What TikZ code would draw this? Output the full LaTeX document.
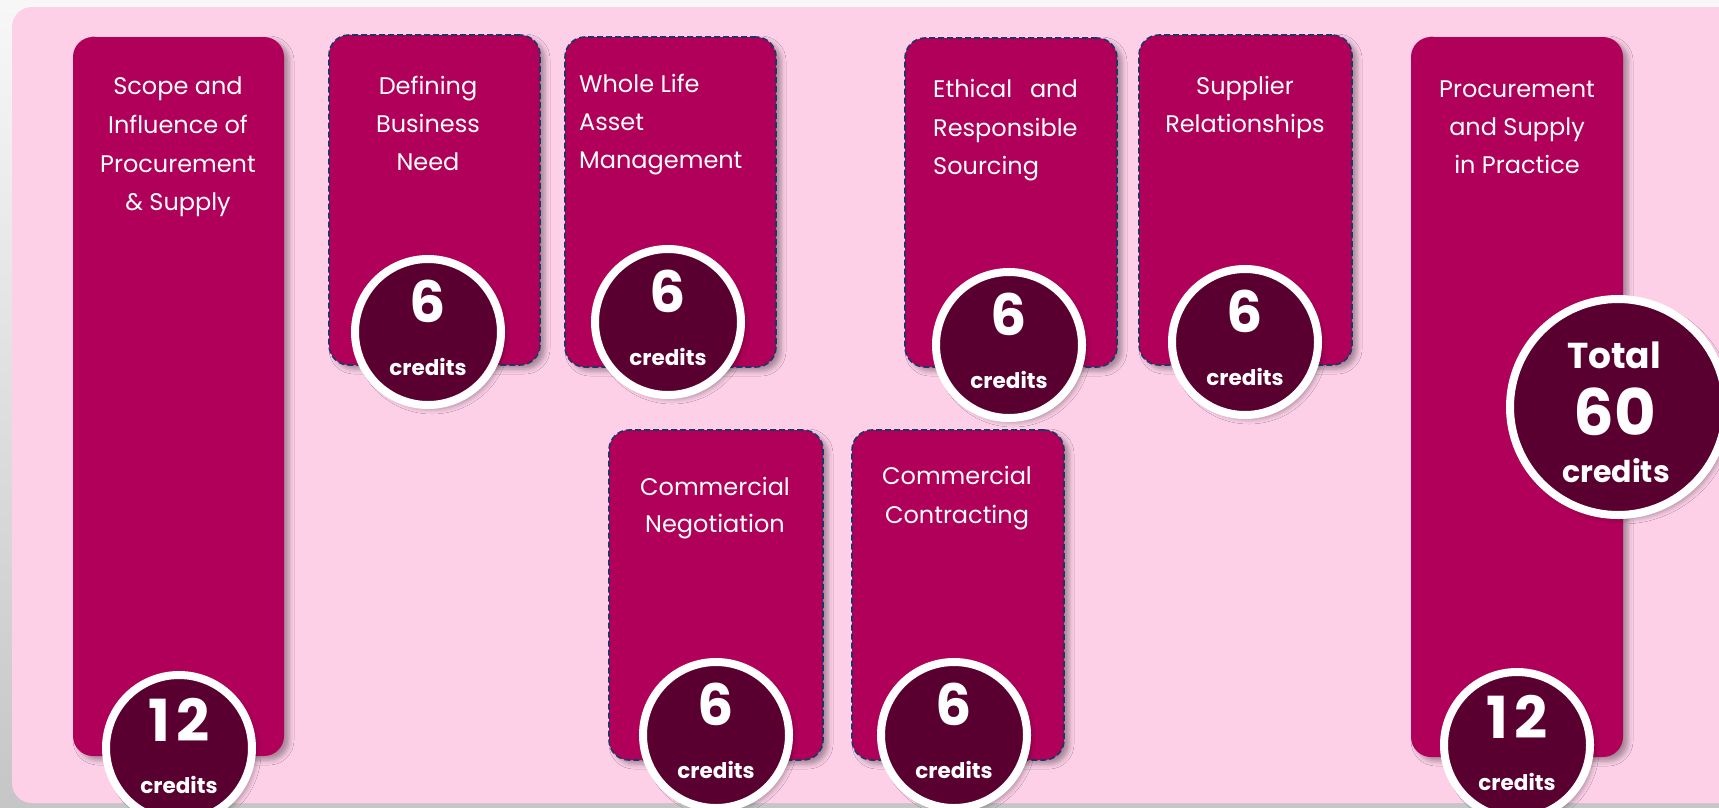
\documentclass[tikz,border=0pt]{standalone}
\usepackage{fontspec}
\setmainfont{Poppins}
\usetikzlibrary{shadows.blur}
\definecolor{bgpink}{HTML}{FDD0E8}
\definecolor{boxmag}{HTML}{B0005A}
\definecolor{circfill}{HTML}{5A0030}
\definecolor{dashblue}{HTML}{1A3866}
\begin{document}
\begin{tikzpicture}[x=1pt,y=-1pt,
  box/.style={rectangle, rounded corners=20pt, fill=boxmag, inner sep=0pt, outer sep=0pt, anchor=north west,
    blur shadow={shadow xshift=5pt, shadow yshift=-4pt, shadow blur radius=5pt, shadow opacity=35}},
  dbox/.style={box, draw=dashblue, dash pattern=on 6pt off 3pt, line width=1.6pt},
  credcirc/.style={circle, fill=circfill, draw=white, line width=8pt, minimum size=146pt, inner sep=0pt, outer sep=0pt,
    blur shadow={shadow xshift=4pt, shadow yshift=-4pt, shadow blur radius=5pt, shadow opacity=35}},
  lbl/.style={text=white, font=\fontsize{24}{24}\selectfont, inner sep=0pt, anchor=base},
  lblw/.style={lbl, anchor=base west},
  lble/.style={lbl, anchor=base east},
  num/.style={text=white, font=\bfseries\fontsize{57}{57}\selectfont, inner sep=0pt, anchor=base},
  cred/.style={text=white, font=\bfseries\fontsize{21.5}{21.5}\selectfont, inner sep=0pt, anchor=base}
]
\useasboundingbox (0,0) rectangle (1719,807);
\shade[top color=gray!6, bottom color=gray!45] (0,0) rectangle (1719,807);
\fill[bgpink, rounded corners=20pt] (12,7) rectangle (1770,803);

% boxes
\node[box, minimum width=211pt, minimum height=719pt] (b1) at (73,37) {};
\node[dbox, minimum width=211pt, minimum height=330pt] (b2) at (329,35) {};
\node[dbox, minimum width=211pt, minimum height=330pt] (b3) at (565,37) {};
\node[dbox, minimum width=212pt, minimum height=329pt] (b4) at (905,38) {};
\node[dbox, minimum width=213pt, minimum height=330pt] (b5) at (1139,35) {};
\node[dbox, minimum width=214pt, minimum height=330pt] (b6) at (609,430) {};
\node[dbox, minimum width=212pt, minimum height=330pt] (b7) at (852,430) {};
\node[box, minimum width=212pt, minimum height=720pt] (b8) at (1411,37) {};

% titles
\node[lbl] (t1a) at (178,94) {Scope and};
\node[lbl] (t1b) at (178,133) {Influence of};
\node[lbl] (t1c) at (178,172) {Procurement};
\node[lbl] (t1d) at (178,210) {\& Supply};

\node[lbl] (t2a) at (428,94) {Defining};
\node[lbl] (t2b) at (428,132) {Business};
\node[lbl] (t2c) at (428,170) {Need};

\node[lblw] (t3a) at (579,92) {Whole Life};
\node[lblw] (t3b) at (579,130) {Asset};
\node[lblw] (t3c) at (579,168) {Management};

\node[lblw] (t4a) at (933,97) {Ethical};
\node[lble] (t4b) at (1078,97) {and};
\node[lblw] (t4c) at (933,136) {Responsible};
\node[lblw] (t4d) at (933,174) {Sourcing};

\node[lbl] (t5a) at (1245,94) {Supplier};
\node[lbl] (t5b) at (1245,132) {Relationships};

\node[lbl] (t6a) at (715,495) {Commercial};
\node[lbl] (t6b) at (715,532) {Negotiation};

\node[lbl] (t7a) at (957,484) {Commercial};
\node[lbl] (t7b) at (957,523) {Contracting};

\node[lbl] (t8a) at (1517,97) {Procurement};
\node[lbl] (t8b) at (1517,135) {and Supply};
\node[lbl] (t8c) at (1517,173) {in Practice};

% credit circles
\node[credcirc] (c1) at (179,748) {};
\node[credcirc] (c2) at (428,332) {};
\node[credcirc] (c3) at (668,322) {};
\node[credcirc] (c4) at (1009,345) {};
\node[credcirc] (c5) at (1245,342) {};
\node[credcirc] (c6) at (716,735) {};
\node[credcirc] (c7) at (954,735) {};
\node[credcirc] (c8) at (1517,745) {};
\node[credcirc, minimum size=216pt] (ct) at (1618,407) {};

\node[num, font=\bfseries\fontsize{58}{58}\selectfont] (n1) at (179,741) {1\kern7pt 2};
\node[cred] (r1) at (179,793) {credits};
\node[num] (n2) at (428,322) {6};
\node[cred] (r2) at (428,375) {credits};
\node[num] (n3) at (668,312) {6};
\node[cred] (r3) at (668,365) {credits};
\node[num] (n4) at (1009,335) {6};
\node[cred] (r4) at (1009,388) {credits};
\node[num] (n5) at (1245,332) {6};
\node[cred] (r5) at (1245,385) {credits};
\node[num] (n6) at (716,725) {6};
\node[cred] (r6) at (716,778) {credits};
\node[num] (n7) at (954,725) {6};
\node[cred] (r7) at (954,778) {credits};
\node[num, font=\bfseries\fontsize{58}{58}\selectfont] (n8) at (1517,738) {1\kern7pt 2};
\node[cred] (r8) at (1517,790) {credits};

\node[num, font=\bfseries\fontsize{36}{36}\selectfont] (tt1) at (1614,368) {Total};
\node[num, font=\bfseries\fontsize{64}{64}\selectfont] (tt2) at (1615,435) {60};
\node[cred, font=\bfseries\fontsize{30}{30}\selectfont] (tt3) at (1616,482) {credits};
\end{tikzpicture}
\end{document}
